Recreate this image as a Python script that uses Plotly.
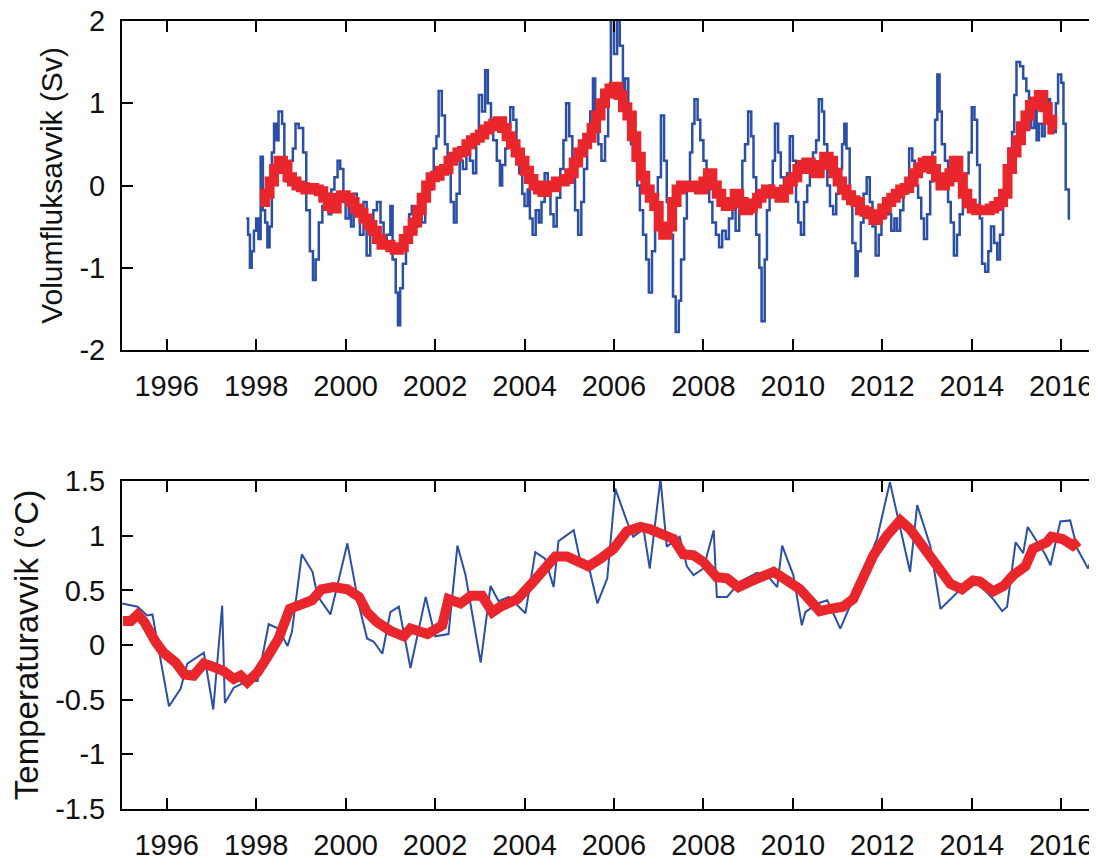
import plotly.graph_objects as go

# ---------------- data ----------------
# Top panel: volume flux anomaly (Sv), stepwise series
flux_years = [1997.78, 1997.82, 1997.86, 1997.90, 1997.95, 1998.00, 1998.05, 1998.10, 1998.15, 1998.20,
              1998.25, 1998.30, 1998.35, 1998.40, 1998.45, 1998.50, 1998.58, 1998.63, 1998.68, 1998.75,
              1998.82, 1998.88, 1998.95, 1999.05, 1999.12, 1999.20, 1999.27, 1999.33, 1999.40, 1999.48,
              1999.55, 1999.62, 1999.68, 1999.75, 1999.82, 1999.88, 1999.95, 2000.00, 2000.07, 2000.12,
              2000.18, 2000.25, 2000.32, 2000.40, 2000.47, 2000.55, 2000.62, 2000.70, 2000.78, 2000.85,
              2000.92, 2001.00, 2001.05, 2001.12, 2001.17, 2001.22, 2001.28, 2001.35, 2001.42, 2001.48,
              2001.55, 2001.62, 2001.70, 2001.78, 2001.85, 2001.92, 2001.97, 2002.03, 2002.08, 2002.15,
              2002.22, 2002.28, 2002.35, 2002.42, 2002.48, 2002.55, 2002.62, 2002.70, 2002.78, 2002.85,
              2002.92, 2002.98, 2003.05, 2003.12, 2003.18, 2003.25, 2003.30, 2003.38, 2003.45, 2003.50,
              2003.57, 2003.62, 2003.68, 2003.75, 2003.82, 2003.88, 2003.95, 2004.00, 2004.07, 2004.12,
              2004.18, 2004.25, 2004.32, 2004.38, 2004.45, 2004.52, 2004.58, 2004.65, 2004.72, 2004.80,
              2004.87, 2004.93, 2005.00, 2005.07, 2005.13, 2005.20, 2005.27, 2005.33, 2005.40, 2005.47,
              2005.53, 2005.58, 2005.65, 2005.72, 2005.80, 2005.87, 2005.93, 2006.00, 2006.07, 2006.13,
              2006.20, 2006.25, 2006.32, 2006.38, 2006.45, 2006.52, 2006.58, 2006.65, 2006.72, 2006.78,
              2006.85, 2006.92, 2006.98, 2007.05, 2007.12, 2007.18, 2007.25, 2007.32, 2007.38, 2007.45,
              2007.50, 2007.57, 2007.63, 2007.70, 2007.75, 2007.80, 2007.87, 2007.93, 2008.00, 2008.07,
              2008.13, 2008.20, 2008.28, 2008.35, 2008.42, 2008.50, 2008.57, 2008.65, 2008.72, 2008.80,
              2008.87, 2008.93, 2009.00, 2009.07, 2009.12, 2009.18, 2009.25, 2009.30, 2009.37, 2009.42,
              2009.48, 2009.55, 2009.60, 2009.67, 2009.73, 2009.80, 2009.87, 2009.93, 2010.00, 2010.07,
              2010.12, 2010.18, 2010.25, 2010.32, 2010.38, 2010.45, 2010.52, 2010.58, 2010.65, 2010.70,
              2010.77, 2010.83, 2010.90, 2010.97, 2011.03, 2011.10, 2011.15, 2011.20, 2011.27, 2011.33,
              2011.40, 2011.45, 2011.52, 2011.58, 2011.65, 2011.72, 2011.78, 2011.85, 2011.92, 2011.98,
              2012.05, 2012.12, 2012.20, 2012.27, 2012.33, 2012.40, 2012.47, 2012.53, 2012.60, 2012.67,
              2012.73, 2012.80, 2012.87, 2012.93, 2013.00, 2013.07, 2013.12, 2013.18, 2013.23, 2013.28,
              2013.33, 2013.40, 2013.47, 2013.53, 2013.60, 2013.67, 2013.73, 2013.80, 2013.87, 2013.93,
              2014.00, 2014.06, 2014.12, 2014.18, 2014.23, 2014.30, 2014.37, 2014.43, 2014.50, 2014.57,
              2014.63, 2014.70, 2014.77, 2014.83, 2014.90, 2014.95, 2015.00, 2015.08, 2015.15, 2015.22,
              2015.28, 2015.33, 2015.40, 2015.45, 2015.50, 2015.57, 2015.63, 2015.70, 2015.75, 2015.82,
              2015.88, 2015.93, 2016.00, 2016.05, 2016.10, 2016.17, 2016.20]
flux_values = [-0.40, -0.60, -1.00, -0.80, -0.55, -0.40, -0.65, 0.35, -0.30, -0.45,
               -0.75, -0.50, 0.40, 0.75, 0.55, 0.90, 0.75, 0.20, 0.05, 0.30,
               0.45, 0.75, 0.70, 0.40, -0.30, -0.80, -1.15, -0.90, -0.45, -0.25,
               -0.10, -0.35, -0.05, 0.10, 0.30, 0.20, -0.20, -0.40, -0.15, -0.50,
               -0.10, -0.30, -0.60, -0.20, -0.85, -0.60, -0.30, -0.20, -0.45, -0.70,
               -0.60, -0.25, -0.90, -1.30, -1.70, -1.25, -0.95, -0.60, -0.35, -0.25,
               -0.50, -0.20, -0.45, -0.15, -0.05, 0.10, 0.45, 0.60, 1.15, 0.85,
               0.50, 0.20, -0.20, -0.45, -0.10, 0.30, 0.20, 0.45, 0.30, 0.15,
               0.60, 1.10, 0.90, 1.40, 1.00, 0.80, 0.55, 0.30, 0.00, 0.25,
               0.45, 0.70, 0.95, 0.80, 0.40, 0.15, -0.10, -0.25, -0.05, -0.40,
               -0.60, -0.30, -0.45, -0.20, 0.15, -0.10, -0.35, -0.50, -0.15, 0.20,
               0.55, 1.00, 0.60, 0.10, -0.30, -0.60, -0.20, 0.20, 0.55, 0.90,
               1.30, 0.90, 0.50, 0.30, 0.60, 1.10, 2.05, 1.60, 2.05, 1.70,
               1.00, 1.30, 0.80, 0.50, 0.30, 0.00, -0.30, -0.60, -0.90, -1.30,
               -0.80, -0.50, 0.10, 0.85, 0.30, -0.20, -0.60, -1.35, -1.78, -1.40,
               -0.90, -0.40, 0.00, 0.40, 0.75, 1.05, 0.80, 0.55, 0.30, 0.05,
               -0.20, -0.45, -0.60, -0.75, -0.55, -0.65, -0.40, -0.20, -0.55, -0.30,
               0.30, 0.50, 0.90, 0.60, 0.10, -0.60, -1.00, -1.65, -0.90, -0.30,
               0.00, 0.30, 0.75, 0.40, 0.10, -0.10, 0.15, 0.60, 0.30, -0.20,
               -0.45, -0.60, -0.20, 0.00, 0.20, 0.40, 0.55, 1.05, 0.90, 0.50,
               0.00, -0.25, -0.35, -0.10, 0.20, 0.50, 0.75, 0.45, -0.20, -0.70,
               -1.10, -0.80, -0.45, -0.10, 0.10, -0.20, -0.50, -0.85, -0.60, -0.40,
               -0.20, -0.35, -0.55, -0.40, -0.55, -0.30, -0.10, 0.05, 0.45, 0.30,
               0.00, -0.15, -0.40, -0.65, -0.35, 0.05, 0.40, 0.80, 1.35, 0.90,
               0.50, 0.30, -0.20, -0.45, -0.85, -0.60, -0.35, 0.00, 0.15, 0.40,
               0.95, 0.80, 0.25, -0.40, -0.95, -1.05, -0.80, -0.50, -0.70, -0.90,
               -0.60, -0.25, 0.05, 0.45, 0.65, 1.10, 1.50, 1.45, 1.30, 1.15,
               1.00, 0.70, 0.95, 0.55, 0.75, 0.60, 0.90, 1.05, 0.80, 0.65,
               1.00, 1.35, 1.25, 0.75, -0.05, -0.40, -0.40]

# Top panel: smoothed flux anomaly (stepwise)
flux_smooth_years = [1998.1, 1998.2, 1998.3, 1998.4, 1998.5, 1998.6, 1998.7, 1998.8, 1998.9, 1999.0,
                     1999.1, 1999.2, 1999.3, 1999.4, 1999.5, 1999.6, 1999.7, 1999.8, 1999.9, 2000.0,
                     2000.1, 2000.2, 2000.3, 2000.4, 2000.5, 2000.6, 2000.7, 2000.8, 2000.9, 2001.0,
                     2001.1, 2001.2, 2001.3, 2001.4, 2001.5, 2001.6, 2001.7, 2001.8, 2001.9, 2002.0,
                     2002.1, 2002.2, 2002.3, 2002.4, 2002.5, 2002.6, 2002.7, 2002.8, 2002.9, 2003.0,
                     2003.1, 2003.2, 2003.3, 2003.4, 2003.5, 2003.6, 2003.7, 2003.8, 2003.9, 2004.0,
                     2004.1, 2004.2, 2004.3, 2004.4, 2004.5, 2004.6, 2004.7, 2004.8, 2004.9, 2005.0,
                     2005.1, 2005.2, 2005.3, 2005.4, 2005.5, 2005.6, 2005.7, 2005.8, 2005.9, 2006.0,
                     2006.1, 2006.2, 2006.3, 2006.4, 2006.5, 2006.6, 2006.7, 2006.8, 2006.9, 2007.0,
                     2007.1, 2007.2, 2007.3, 2007.4, 2007.5, 2007.6, 2007.7, 2007.8, 2007.9, 2008.0,
                     2008.1, 2008.2, 2008.3, 2008.4, 2008.5, 2008.6, 2008.7, 2008.8, 2008.9, 2009.0,
                     2009.1, 2009.2, 2009.3, 2009.4, 2009.5, 2009.6, 2009.7, 2009.8, 2009.9, 2010.0,
                     2010.1, 2010.2, 2010.3, 2010.4, 2010.5, 2010.6, 2010.7, 2010.8, 2010.9, 2011.0,
                     2011.1, 2011.2, 2011.3, 2011.4, 2011.5, 2011.6, 2011.7, 2011.8, 2011.9, 2012.0,
                     2012.1, 2012.2, 2012.3, 2012.4, 2012.5, 2012.6, 2012.7, 2012.8, 2012.9, 2013.0,
                     2013.1, 2013.2, 2013.3, 2013.4, 2013.5, 2013.6, 2013.7, 2013.8, 2013.9, 2014.0,
                     2014.1, 2014.2, 2014.3, 2014.4, 2014.5, 2014.6, 2014.7, 2014.8, 2014.9, 2015.0,
                     2015.1, 2015.2, 2015.3, 2015.4, 2015.5, 2015.6, 2015.7, 2015.8, 2015.85]
flux_smooth_values = [-0.20, -0.10, 0.05, 0.20, 0.30, 0.25, 0.10, 0.05, 0.00, -0.02,
                      -0.05, -0.03, -0.05, -0.07, -0.15, -0.25, -0.28, -0.15, -0.12, -0.15,
                      -0.20, -0.28, -0.33, -0.40, -0.48, -0.55, -0.65, -0.72, -0.72, -0.75,
                      -0.78, -0.75, -0.65, -0.55, -0.45, -0.30, -0.15, 0.00, 0.10, 0.12,
                      0.18, 0.20, 0.30, 0.35, 0.40, 0.42, 0.50, 0.55, 0.58, 0.62,
                      0.68, 0.72, 0.75, 0.78, 0.70, 0.60, 0.50, 0.40, 0.30, 0.18,
                      0.08, 0.00, -0.05, -0.08, 0.00, -0.02, 0.05, 0.05, 0.08, 0.15,
                      0.28, 0.40, 0.50, 0.58, 0.70, 0.85, 1.00, 1.12, 1.18, 1.20,
                      1.10, 0.95, 0.85, 0.60, 0.35, 0.12, -0.05, -0.15, -0.25, -0.50,
                      -0.60, -0.50, -0.20, -0.05, 0.00, 0.00, -0.02, 0.00, -0.05, 0.05,
                      0.15, 0.00, -0.10, -0.20, -0.25, -0.22, -0.10, -0.20, -0.30, -0.28,
                      -0.22, -0.15, -0.10, -0.05, -0.08, -0.10, -0.15, -0.05, 0.05, 0.10,
                      0.20, 0.25, 0.28, 0.20, 0.15, 0.25, 0.35, 0.30, 0.15, 0.05,
                      -0.05, -0.12, -0.18, -0.20, -0.30, -0.32, -0.35, -0.42, -0.35, -0.28,
                      -0.20, -0.15, -0.10, -0.05, -0.03, 0.05, 0.15, 0.22, 0.28, 0.30,
                      0.20, 0.10, 0.00, 0.05, 0.15, 0.30, 0.10, -0.10, -0.22, -0.28,
                      -0.30, -0.30, -0.30, -0.28, -0.25, -0.20, -0.10, 0.20, 0.40, 0.55,
                      0.72, 0.85, 0.98, 1.02, 1.10, 0.95, 0.80, 0.68, 0.68]

# Bottom panel: temperature anomaly (°C)
temp_years = [1995.00, 1995.27, 1995.35, 1995.56, 1995.68, 1996.05, 1996.31, 1996.46, 1996.60, 1996.83,
              1997.04, 1997.24, 1997.30, 1997.50, 1997.80, 1998.03, 1998.28, 1998.50, 1998.70, 1998.80,
              1999.02, 1999.26, 1999.37, 1999.66, 2000.04, 2000.30, 2000.48, 2000.63, 2000.82, 2001.00,
              2001.19, 2001.45, 2001.79, 2002.00, 2002.30, 2002.50, 2002.68, 2003.02, 2003.24, 2003.42,
              2003.65, 2004.02, 2004.24, 2004.46, 2004.65, 2004.76, 2005.10, 2005.25, 2005.43, 2005.63,
              2005.85, 2006.03, 2006.29, 2006.43, 2006.66, 2006.80, 2007.04, 2007.18, 2007.47, 2007.63,
              2007.78, 2008.00, 2008.23, 2008.30, 2008.53, 2008.82, 2009.20, 2009.42, 2009.65, 2009.76,
              2010.01, 2010.20, 2010.28, 2010.55, 2010.77, 2011.06, 2011.28, 2011.88, 2012.17, 2012.62,
              2012.78, 2013.07, 2013.30, 2013.60, 2013.85, 2014.10, 2014.30, 2014.48, 2014.68, 2014.79,
              2014.98, 2015.15, 2015.25, 2015.45, 2015.64, 2015.76, 2015.98, 2016.20, 2016.36, 2016.60,
              2016.95]
temp_values = [0.38, 0.36, 0.35, 0.27, 0.28, -0.56, -0.40, -0.17, -0.13, -0.07,
               -0.59, 0.36, -0.53, -0.39, -0.33, -0.33, 0.19, 0.15, -0.01, 0.12,
               0.83, 0.67, 0.45, 0.28, 0.93, 0.36, 0.06, 0.03, -0.08, 0.30,
               0.35, -0.21, 0.44, 0.08, 0.10, 0.91, 0.64, -0.16, 0.54, 0.40,
               0.44, 0.29, 0.85, 0.79, 0.53, 0.95, 1.05, 0.76, 0.73, 0.38,
               0.61, 1.43, 1.13, 0.99, 1.06, 0.70, 1.52, 0.90, 0.99, 0.72,
               0.64, 0.70, 1.05, 0.44, 0.44, 0.58, 0.66, 0.64, 0.53, 0.91,
               0.64, 0.18, 0.30, 0.38, 0.41, 0.15, 0.36, 0.97, 1.49, 0.67,
               1.28, 0.91, 0.33, 0.45, 0.55, 0.58, 0.50, 0.42, 0.31, 0.35,
               0.94, 0.84, 1.08, 0.95, 0.83, 0.73, 1.13, 1.14, 0.88, 0.70,
               1.10]

temp_smooth_years = [1995.02, 1995.20, 1995.35, 1995.50, 1995.75, 1995.93, 1996.20, 1996.40, 1996.60, 1996.83,
                     1997.05, 1997.28, 1997.50, 1997.65, 1997.80, 1998.03, 1998.25, 1998.50, 1998.75, 1999.02,
                     1999.25, 1999.46, 1999.73, 2000.04, 2000.30, 2000.48, 2000.70, 2001.00, 2001.30, 2001.45,
                     2001.83, 2002.16, 2002.30, 2002.57, 2002.80, 2003.05, 2003.28, 2003.46, 2003.84, 2004.20,
                     2004.46, 2004.69, 2004.95, 2005.25, 2005.43, 2005.70, 2005.99, 2006.29, 2006.59, 2006.80,
                     2007.10, 2007.33, 2007.55, 2007.78, 2008.00, 2008.30, 2008.53, 2008.78, 2009.04, 2009.27,
                     2009.57, 2009.87, 2010.16, 2010.38, 2010.60, 2010.82, 2011.12, 2011.35, 2011.58, 2011.80,
                     2012.10, 2012.40, 2012.62, 2012.85, 2013.07, 2013.30, 2013.52, 2013.78, 2014.03, 2014.18,
                     2014.48, 2014.71, 2014.93, 2015.20, 2015.37, 2015.68, 2015.78, 2016.03, 2016.26, 2016.38]
temp_smooth_values = [0.22, 0.22, 0.28, 0.21, 0.03, -0.07, -0.16, -0.27, -0.28, -0.17,
                      -0.20, -0.24, -0.31, -0.28, -0.34, -0.25, -0.11, 0.06, 0.33, 0.38,
                      0.41, 0.51, 0.53, 0.51, 0.44, 0.30, 0.21, 0.13, 0.08, 0.15,
                      0.10, 0.18, 0.42, 0.38, 0.45, 0.45, 0.30, 0.35, 0.42, 0.58,
                      0.70, 0.81, 0.81, 0.76, 0.72, 0.79, 0.88, 1.04, 1.08, 1.06,
                      1.02, 0.97, 0.83, 0.82, 0.76, 0.62, 0.61, 0.53, 0.58, 0.62,
                      0.67, 0.59, 0.51, 0.41, 0.31, 0.33, 0.35, 0.42, 0.61, 0.82,
                      1.00, 1.14, 1.06, 0.94, 0.82, 0.68, 0.56, 0.51, 0.59, 0.58,
                      0.49, 0.54, 0.64, 0.72, 0.88, 0.94, 0.99, 0.97, 0.91, 0.95]

year_ticks = [1996, 1998, 2000, 2002, 2004, 2006, 2008, 2010, 2012, 2014, 2016]
year_labels = [str(y) for y in year_ticks]
flux_ticks = [-2, -1, 0, 1, 2]
flux_labels = ["-2", "-1", "0", "1", "2"]
temp_ticks = [-1.5, -1, -0.5, 0, 0.5, 1, 1.5]
temp_labels = ["-1.5", "-1", "-0.5", "0", "0.5", "1", "1.5"]

flux_title = "Volumfluksavvik (Sv)"
temp_title = "Temperaturavvik (°C)"

# ---------------- styling ----------------
BLUE = "#2b4fa6"
RED = "#e8262b"
FONT = "Liberation Sans, Arial, sans-serif"
X_RANGE = [1995, 2016.8]

fig = go.Figure()

fig.add_trace(go.Scatter(x=flux_years, y=flux_values, mode="lines", line=dict(color=BLUE, width=2.5, shape="hv"),
                         xaxis="x", yaxis="y", showlegend=False, hoverinfo="skip"))
fig.add_trace(go.Scatter(x=flux_smooth_years, y=flux_smooth_values, mode="lines",
                         line=dict(color=RED, width=10, shape="hv"),
                         xaxis="x", yaxis="y", showlegend=False, hoverinfo="skip"))
fig.add_trace(go.Scatter(x=temp_years, y=temp_values, mode="lines", line=dict(color=BLUE, width=2),
                         xaxis="x2", yaxis="y2", showlegend=False, hoverinfo="skip"))
fig.add_trace(go.Scatter(x=temp_smooth_years, y=temp_smooth_values, mode="lines",
                         line=dict(color=RED, width=10),
                         xaxis="x2", yaxis="y2", showlegend=False, hoverinfo="skip"))
# helper traces so the right-side tick axes are drawn
fig.add_trace(go.Scatter(x=[None], y=[None], xaxis="x", yaxis="y3", showlegend=False, hoverinfo="skip"))
fig.add_trace(go.Scatter(x=[None], y=[None], xaxis="x2", yaxis="y4", showlegend=False, hoverinfo="skip"))

top_dom = [0.5825, 1.0]
bot_dom = [0.0, 0.4162]

xcommon = dict(range=X_RANGE, tickmode="array", tickvals=year_ticks, ticktext=year_labels,
               ticks="inside", ticklen=11, tickwidth=2, tickcolor="black",
               showline=True, linewidth=2, linecolor="black", mirror="ticks",
               showgrid=False, zeroline=False, ticklabelstandoff=9, automargin=False,
               ticklabeloverflow="allow",
               tickfont=dict(family=FONT, size=29, color="#111111"))

ycommon = dict(ticks="inside", ticklen=11, tickwidth=2, tickcolor="black",
               showline=True, linewidth=2, linecolor="black", mirror=False,
               showgrid=False, zeroline=False, ticklabelstandoff=9, automargin=False,
               ticklabeloverflow="allow",
               tickfont=dict(family=FONT, size=29, color="#111111"), tickmode="array")

yright = dict(ticks="inside", ticklen=5, tickwidth=2, tickcolor="black", showline=False, automargin=False,
              showgrid=False, zeroline=False, showticklabels=False, side="right", tickmode="array")

# the page body keeps the browser's default 8 px margin, so the figure is sized to fit beside it
fig.update_layout(
    width=1089, height=853,
    margin=dict(l=114, r=0, t=13, b=52),
    paper_bgcolor="white", plot_bgcolor="white",
    xaxis=dict(xcommon, domain=[0, 1], anchor="y"),
    xaxis2=dict(xcommon, domain=[0, 1], anchor="y2"),
    yaxis=dict(ycommon, domain=top_dom, anchor="x", range=[-2, 2], tickvals=flux_ticks, ticktext=flux_labels,
               title=dict(text=flux_title, standoff=8, font=dict(family=FONT, size=30, color="#111111"))),
    yaxis2=dict(ycommon, domain=bot_dom, anchor="x2", range=[-1.5, 1.5], tickvals=temp_ticks, ticktext=temp_labels,
                title=dict(text=temp_title, standoff=8, font=dict(family=FONT, size=33, color="#111111"))),
    yaxis3=dict(yright, overlaying="y", anchor="x", range=[-2, 2], tickvals=flux_ticks),
    yaxis4=dict(yright, overlaying="y2", anchor="x2", range=[-1.5, 1.5], tickvals=temp_ticks),
)

fig.write_html("out.html")
